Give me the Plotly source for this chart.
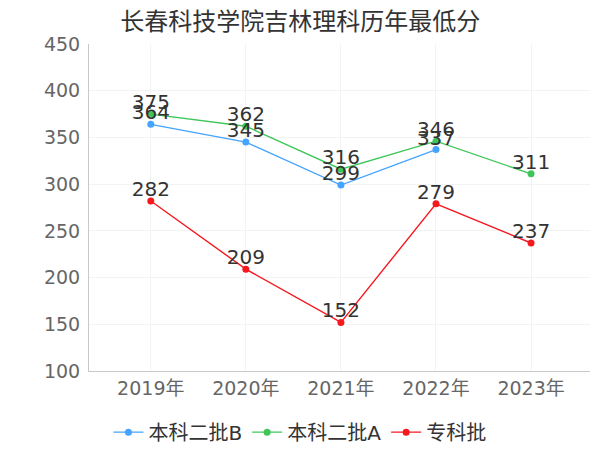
import plotly.graph_objects as go

years = ["2019年", "2020年", "2021年", "2022年", "2023年"]
batch_b = [364, 345, 299, 337, None]
batch_a = [375, 362, 316, 346, 311]
zhuanke = [282, 209, 152, 279, 237]

series = [
    ("本科二批B", batch_b, "#45a4ff"),
    ("本科二批A", batch_a, "#3fc65a"),
    ("专科批", zhuanke, "#f5191f"),
]

font = "DejaVu Sans, Noto Sans CJK SC"
cjk = "Noto Sans CJK SC"

fig = go.Figure()
for name, vals, col in series:
    fig.add_trace(go.Scatter(
        x=years, y=vals, name=name,
        mode="lines+markers",
        line={"color": col, "width": 1.4},
        marker={"color": col, "size": 7},
        cliponaxis=False,
    ))
# value labels, drawn without marker padding so they sit close to the points
for name, vals, col in series:
    fig.add_trace(go.Scatter(
        x=years, y=vals, mode="text", showlegend=False, hoverinfo="skip",
        text=[str(v) if v is not None else "" for v in vals],
        textposition="top center",
        textfont={"size": 20, "color": "#333333", "family": font},
        cliponaxis=False,
    ))

fig.update_layout(
    width=600, height=450,
    paper_bgcolor="white", plot_bgcolor="white",
    margin={"l": 81, "r": 18, "t": 36, "b": 87, "autoexpand": False},
    title={"text": "长春科技学院吉林理科历年最低分", "x": 0.487, "xanchor": "center",
           "y": 0.97, "yanchor": "middle",
           "font": {"size": 24, "color": "#333333", "family": cjk}},
    font={"family": font, "color": "#666666"},
    showlegend=True,
    legend={"orientation": "h", "x": 0.421, "xanchor": "center", "y": -0.187, "yanchor": "middle",
            "font": {"size": 20, "color": "#333333", "family": font},
            "itemwidth": 30, "tracegroupgap": 0},
)
fig.update_xaxes(
    range=[-0.65, 4.62],
    showgrid=True, gridcolor="#f3f3f3",
    showline=True, linecolor="#c8c8c8", linewidth=1,
    ticks="", tickfont={"size": 19, "color": "#666666", "family": font},
)
fig.update_yaxes(
    range=[100, 450], dtick=50,
    showgrid=True, gridcolor="#f3f3f3", zeroline=False,
    showline=True, linecolor="#c8c8c8", linewidth=1,
    ticks="", ticklabelstandoff=4,
    tickfont={"size": 19, "color": "#666666", "family": font},
)

fig.write_html("out.html")
